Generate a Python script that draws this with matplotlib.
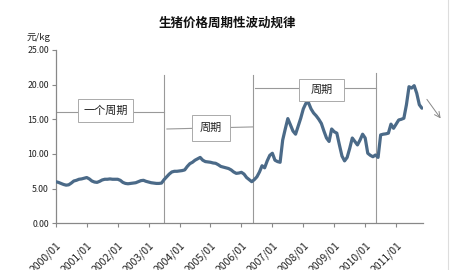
import matplotlib
matplotlib.use("Agg")
import matplotlib.pyplot as plt
from matplotlib.patches import Rectangle
import numpy as np

plt.rcParams['font.family'] = ['Noto Sans CJK SC', 'DejaVu Sans']

title = "生猪价格周期性波动规律"
y_unit = "元/kg"
years = list(range(2000, 2012))
tick_labels = [f"{y}/01" for y in years]
y_ticks = [0, 5, 10, 15, 20, 25]

# monthly prices (元/kg), Jan 2000 - Nov 2011
p2000 = [6.0, 5.9, 5.75, 5.6, 5.5, 5.55, 5.8, 6.1, 6.2, 6.35, 6.4, 6.5]
p2001 = [6.6, 6.4, 6.1, 5.95, 5.9, 6.05, 6.25, 6.35, 6.35, 6.4, 6.35, 6.35]
p2002 = [6.35, 6.2, 5.9, 5.75, 5.7, 5.75, 5.8, 5.85, 6.0, 6.15, 6.2, 6.05]
p2003 = [5.95, 5.85, 5.8, 5.75, 5.75, 5.8, 6.3, 6.7, 7.1, 7.4, 7.5, 7.5]
p2004 = [7.55, 7.6, 7.7, 8.2, 8.6, 8.8, 9.1, 9.3, 9.5, 9.1, 8.9, 8.85]
p2005 = [8.8, 8.7, 8.65, 8.45, 8.2, 8.1, 8.0, 7.9, 7.7, 7.4, 7.2, 7.25]
p2006 = [7.35, 7.1, 6.6, 6.3, 6.0, 6.3, 6.7, 7.4, 8.3, 8.0, 9.0, 9.8]
p2007 = [10.1, 9.1, 8.9, 8.8, 12.0, 13.6, 15.1, 14.2, 13.3, 12.85, 14.0, 15.15]
p2008 = [16.5, 17.3, 17.4, 16.5, 15.9, 15.5, 15.0, 14.4, 13.3, 12.3, 11.8, 13.6]
p2009 = [13.2, 13.0, 11.3, 9.7, 9.0, 9.5, 10.8, 12.3, 11.8, 11.3, 12.0, 12.85]
p2010 = [12.3, 10.1, 9.8, 9.6, 9.85, 9.5, 12.75, 12.85, 12.9, 13.0, 14.3, 13.7]
p2011 = [14.3, 14.9, 15.0, 15.15, 17.1, 19.7, 19.5, 19.85, 18.75, 17.1, 16.6]

prices = p2000 + p2001 + p2002 + p2003 + p2004 + p2005 + p2006 + p2007 + p2008 + p2009 + p2010 + p2011

# cycle boundaries (month index) and labels
cycle_bounds = [41.9, 76.6, 124.2]
cycle_labels = ["一个周期", "周期", "周期"]

fig = plt.figure(figsize=(4.5, 2.7), dpi=100)
fig.patch.set_facecolor('white')
ax = fig.add_axes([0.124, 0.173, 0.817, 0.642])

x = np.arange(len(prices))
ax.plot(x, prices, color='#4B6A88', lw=2.3, solid_capstyle='round', zorder=3)

ax.set_xlim(0, len(prices) - 0.4)
ax.set_ylim(0, 25)
ax.set_yticks(y_ticks)
ax.set_yticklabels([f"{v:.2f}" for v in y_ticks], fontsize=6.3)
ax.set_xticks([12 * i for i in range(len(years))])
ax.set_xticklabels(tick_labels, rotation=45, ha='right', va='top', fontsize=7.5,
                   rotation_mode='anchor')
for s in ['top', 'right']:
    ax.spines[s].set_visible(False)
for s in ['left', 'bottom']:
    ax.spines[s].set_color('#888888')
    ax.spines[s].set_linewidth(0.9)
ax.tick_params(axis='both', colors='#888888', length=3, width=0.8, labelcolor='#222222', pad=2)
ax.tick_params(axis='x', pad=9)

gc = '#999999'
# vertical cycle lines
ax.plot([cycle_bounds[0]] * 2, [0, 21.4], color=gc, lw=0.8, zorder=2)
ax.plot([cycle_bounds[1]] * 2, [0, 21.4], color=gc, lw=0.8, zorder=2)
ax.plot([cycle_bounds[2]] * 2, [0, 21.7], color=gc, lw=0.8, zorder=2)

# bracket lines
ax.plot([0, cycle_bounds[0]], [16.1, 16.1], color=gc, lw=0.8, zorder=2)
ax.plot([cycle_bounds[0] + 1.2, cycle_bounds[1]], [13.6, 13.9], color=gc, lw=0.8, zorder=2)
ax.plot([cycle_bounds[1] + 0.7, cycle_bounds[2]], [19.55, 19.55], color=gc, lw=0.8, zorder=2)

# label boxes (x0, x1, y0, y1) and text centres
boxes = [(8.5, 29.9, 14.62, 17.94), (52.8, 67.6, 11.88, 15.63), (94.4, 111.8, 17.65, 20.82)]
for (x0, x1, y0, y1), lab in zip(boxes, cycle_labels):
    ax.add_patch(Rectangle((x0, y0), x1 - x0, y1 - y0, fc='white', ec='#AAAAAA', lw=0.7, zorder=4))
    ax.text((x0 + x1) / 2, (y0 + y1) / 2, lab, fontsize=8, ha='center', va='center',
            zorder=5, color='#222222')

# trend arrow
ax.annotate('', xy=(149.9, 14.8), xytext=(143.3, 18.2), annotation_clip=False,
            arrowprops=dict(arrowstyle='->', color='#888888', lw=0.7))

fig.text(0.505, 0.915, title, fontsize=9, fontweight='bold', ha='center', va='center', color='#111111')
fig.text(0.058, 0.862, y_unit, fontsize=6.8, ha='left', va='center', color='#222222')
fig.add_artist(plt.Line2D([0.995, 0.995], [0, 1], transform=fig.transFigure, color='#DDDDDD', lw=0.8))

fig.savefig('out.png', dpi=100, facecolor='white')
